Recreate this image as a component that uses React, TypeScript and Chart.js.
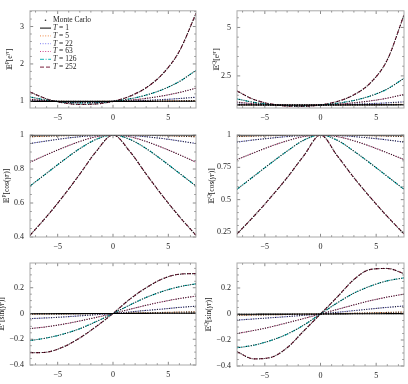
import { useEffect, useRef } from "react";
import { Chart, registerables } from "chart.js";

Chart.register(...registerables);

// Frequency grid γ shared by every panel
const gammaGrid = [-7.5, -6, -4.5, -3, -1.5, 0, 1.5, 3, 4.5, 6, 7.5];
const horizons = [1, 5, 22, 63, 126, 252];
const xTickValues = [-5, 0, 5];

// E^P[e^{γr}]
const expP_T1 = [1.001, 1.0, 1.0, 0.9997, 0.9997, 1, 1.0005, 1.001, 1.002, 1.003, 1.005];
const expP_T5 = [1.0045, 1.001, 0.999, 0.998, 0.9986, 1, 1.003, 1.006, 1.011, 1.017, 1.024];
const expP_T22 = [1.02, 1.006, 0.997, 0.993, 0.994, 1, 1.011, 1.028, 1.049, 1.077, 1.111];
const expP_T63 = [1.057, 1.016, 0.991, 0.98, 0.983, 1, 1.032, 1.081, 1.148, 1.238, 1.353];
const expP_T126 = [1.118, 1.033, 0.981, 0.96, 0.966, 1, 1.066, 1.169, 1.319, 1.531, 1.83];
const expP_T252 = [1.25, 1.066, 0.963, 0.921, 0.932, 1, 1.136, 1.366, 1.74, 2.344, 3.35];

// E^Q[e^{γr}]
const expQ_T1 = [1.002, 1.001, 1.0, 0.9998, 0.9997, 1, 1.0007, 1.002, 1.003, 1.005, 1.007];
const expQ_T5 = [1.011, 1.005, 1.001, 0.999, 0.9985, 1, 1.003, 1.008, 1.015, 1.024, 1.035];
const expQ_T22 = [1.048, 1.022, 1.005, 0.995, 0.994, 1, 1.014, 1.037, 1.069, 1.111, 1.163];
const expQ_T63 = [1.145, 1.065, 1.013, 0.986, 0.982, 1, 1.042, 1.111, 1.211, 1.351, 1.542];
const expQ_T126 = [1.311, 1.134, 1.026, 0.972, 0.964, 1, 1.086, 1.234, 1.467, 1.825, 2.376];
const expQ_T252 = [1.719, 1.286, 1.054, 0.945, 0.929, 1, 1.179, 1.522, 2.151, 3.33, 5.647];

// E^P[cos(γr)]
const cosP_T1 = [0.998, 0.999, 0.999, 1.0, 1.0, 1, 1.0, 1.0, 0.999, 0.999, 0.998];
const cosP_T5 = [0.99, 0.993, 0.996, 0.998, 0.9995, 1, 0.9995, 0.998, 0.996, 0.993, 0.99];
const cosP_T22 = [0.95, 0.965, 0.979, 0.99, 0.997, 1, 0.997, 0.99, 0.979, 0.965, 0.95];
const cosP_T63 = [0.84, 0.884, 0.925, 0.962, 0.99, 1, 0.99, 0.962, 0.925, 0.884, 0.84];
const cosP_T126 = [0.7, 0.775, 0.85, 0.92, 0.975, 1, 0.975, 0.92, 0.85, 0.775, 0.7];
const cosP_T252 = [0.41, 0.52, 0.64, 0.77, 0.905, 1, 0.905, 0.77, 0.64, 0.52, 0.41];

// E^Q[cos(γr)]
const cosQ_T1 = [0.9975, 0.998, 0.999, 0.9995, 1.0, 1, 1.0, 0.9995, 0.999, 0.998, 0.9975];
const cosQ_T5 = [0.988, 0.9917, 0.995, 0.9975, 0.9993, 1, 0.9993, 0.9975, 0.995, 0.9917, 0.988];
const cosQ_T22 = [0.945, 0.962, 0.976, 0.988, 0.997, 1, 0.997, 0.988, 0.976, 0.962, 0.945];
const cosQ_T63 = [0.81, 0.862, 0.912, 0.955, 0.988, 1, 0.988, 0.955, 0.912, 0.862, 0.81];
const cosQ_T126 = [0.58, 0.68, 0.78, 0.875, 0.96, 1, 0.96, 0.875, 0.78, 0.68, 0.58];
const cosQ_T252 = [0.235, 0.37, 0.515, 0.67, 0.84, 1, 0.84, 0.67, 0.515, 0.37, 0.235];

// E^P[sin(γr)]
const sinP_T1 = [-0.002, -0.0016, -0.0012, -0.0008, -0.0004, 0, 0.0005, 0.001, 0.0015, 0.002, 0.0025];
const sinP_T5 = [-0.005, -0.004, -0.003, -0.002, -0.001, 0, 0.003, 0.005, 0.008, 0.011, 0.013];
const sinP_T22 = [-0.04, -0.034, -0.027, -0.018, -0.009, 0, 0.012, 0.024, 0.035, 0.047, 0.057];
const sinP_T63 = [-0.117, -0.103, -0.083, -0.058, -0.03, 0, 0.032, 0.064, 0.092, 0.116, 0.135];
const sinP_T126 = [-0.21, -0.19, -0.16, -0.118, -0.062, 0, 0.065, 0.125, 0.172, 0.208, 0.23];
const sinP_T252 = [-0.305, -0.3, -0.26, -0.19, -0.1, 0, 0.11, 0.2, 0.27, 0.305, 0.31];

// E^Q[sin(γr)]
const sinQ_T1 = [-0.002, -0.0016, -0.0012, -0.0008, -0.0004, 0, 0.0006, 0.0012, 0.0018, 0.0024, 0.003];
const sinQ_T5 = [-0.01, -0.008, -0.006, -0.004, -0.002, 0, 0.003, 0.006, 0.009, 0.012, 0.015];
const sinQ_T22 = [-0.047, -0.038, -0.029, -0.02, -0.01, 0, 0.013, 0.026, 0.039, 0.051, 0.062];
const sinQ_T63 = [-0.15, -0.127, -0.1, -0.068, -0.035, 0, 0.035, 0.07, 0.103, 0.13, 0.153];
const sinQ_T126 = [-0.26, -0.24, -0.205, -0.155, -0.085, 0, 0.085, 0.16, 0.215, 0.255, 0.278];
const sinQ_T252 = [-0.29, -0.345, -0.335, -0.26, -0.13, 0, 0.13, 0.265, 0.343, 0.35, 0.31];

// y-axis major ticks per panel
const yTicksExpP = [1, 2, 3];
const yTicksExpQ = [2.5, 5];
const yTicksCosP = [0.4, 0.6, 0.8, 1];
const yTicksCosQ = [0.25, 0.5, 0.75, 1];
const yTicksSin = [-0.4, -0.2, 0, 0.2];

const seriesColors = ["#000000", "#ee8844", "#7a7af0", "#cc4488", "#10b4b4", "#7a1f3c"];
const seriesDashes: number[][] = [[], [1, 1.6], [1, 1.6], [1, 1.6], [4, 1.6, 1, 1.6], [4, 2]];

const SERIF = "'Liberation Serif', 'DejaVu Serif', serif";
const W = 408;
const H = 384;

type PanelSpec = {
  area: [number, number, number, number]; // left, top, right, bottom of the plot box
  yMin: number;
  yMax: number;
  yTicks: number[];
  yMinor: number;
  series: number[][];
  measure: string;
  body: "exp" | "cos" | "sin";
  titleX: number;
  legend?: boolean;
};

const panels: PanelSpec[] = [
  {
    area: [30, 5, 196, 108], yMin: 0.823, yMax: 3.42, yTicks: yTicksExpP, yMinor: 0.2,
    series: [expP_T1, expP_T5, expP_T22, expP_T63, expP_T126, expP_T252],
    measure: "P", body: "exp", titleX: 10, legend: true,
  },
  {
    area: [237, 5, 404, 108], yMin: 0.843, yMax: 5.86, yTicks: yTicksExpQ, yMinor: 0.5,
    series: [expQ_T1, expQ_T5, expQ_T22, expQ_T63, expQ_T126, expQ_T252],
    measure: "Q", body: "exp", titleX: 217,
  },
  {
    area: [30, 135, 196, 237], yMin: 0.4, yMax: 1.0, yTicks: yTicksCosP, yMinor: 0.05,
    series: [cosP_T1, cosP_T5, cosP_T22, cosP_T63, cosP_T126, cosP_T252],
    measure: "P", body: "cos", titleX: 7,
  },
  {
    area: [237, 135, 404, 237], yMin: 0.211, yMax: 1.0, yTicks: yTicksCosQ, yMinor: 0.05,
    series: [cosQ_T1, cosQ_T5, cosQ_T22, cosQ_T63, cosQ_T126, cosQ_T252],
    measure: "Q", body: "cos", titleX: 212,
  },
  {
    area: [30, 263, 196, 365], yMin: -0.4, yMax: 0.392, yTicks: yTicksSin, yMinor: 0.05,
    series: [sinP_T1, sinP_T5, sinP_T22, sinP_T63, sinP_T126, sinP_T252],
    measure: "P", body: "sin", titleX: 2.5,
  },
  {
    area: [237, 263, 404, 366], yMin: -0.4, yMax: 0.392, yTicks: yTicksSin, yMinor: 0.05,
    series: [sinQ_T1, sinQ_T5, sinQ_T22, sinQ_T63, sinQ_T126, sinQ_T252],
    measure: "Q", body: "sin", titleX: 209,
  },
];

const fmtTick = (v: number) => {
  const s = String(Math.round(v * 1000) / 1000);
  return v < 0 ? "\u2212" + s.slice(1) : s;
};

type Part = { t: string; sup?: boolean; it?: boolean };

function drawParts(ctx: CanvasRenderingContext2D, parts: Part[], x: number, y: number, size: number) {
  const supSize = size * 0.72;
  const fontFor = (p: Part) => `${p.it ? "italic " : ""}${p.sup ? supSize : size}px ${SERIF}`;
  let total = 0;
  for (const p of parts) {
    ctx.font = fontFor(p);
    total += ctx.measureText(p.t).width;
  }
  let cx = x - total / 2;
  for (const p of parts) {
    ctx.font = fontFor(p);
    ctx.fillText(p.t, cx, p.sup ? y - size * 0.38 : y);
    cx += ctx.measureText(p.t).width;
  }
}

function titleParts(measure: string, body: string): Part[] {
  const head: Part[] = [{ t: "\u{1D53C}" }, { t: measure, sup: true }];
  if (body === "exp") return [...head, { t: "[" }, { t: "e" }, { t: "\u03B3r", sup: true, it: true }, { t: "]" }];
  return [...head, { t: `[${body}(` }, { t: "\u03B3r", it: true }, { t: ")]" }];
}

function drawDecor(chart: Chart, panel: PanelSpec) {
  const ctx = chart.ctx;
  const { left, top, right, bottom } = chart.chartArea;
  const xs = chart.scales.x;
  const ys = chart.scales.y;
  ctx.save();
  ctx.strokeStyle = "#3a3a3a";
  ctx.lineWidth = 0.6;
  ctx.beginPath();
  // inward tick marks on all four sides
  for (let v = -7; v <= 7.001; v += 1) {
    const px = xs.getPixelForValue(v);
    const len = xTickValues.some((t) => Math.abs(t - v) < 1e-6) ? 3.2 : 1.7;
    ctx.moveTo(px, bottom);
    ctx.lineTo(px, bottom - len);
    ctx.moveTo(px, top);
    ctx.lineTo(px, top + len);
  }
  const start = Math.ceil(panel.yMin / panel.yMinor - 1e-6) * panel.yMinor;
  for (let v = start; v <= panel.yMax + 1e-9; v += panel.yMinor) {
    const py = ys.getPixelForValue(v);
    const len = panel.yTicks.some((t) => Math.abs(t - v) < 1e-6) ? 3.2 : 1.7;
    ctx.moveTo(left, py);
    ctx.lineTo(left + len, py);
    ctx.moveTo(right, py);
    ctx.lineTo(right - len, py);
  }
  ctx.stroke();
  ctx.strokeStyle = "#a9a9a9";
  ctx.lineWidth = 1;
  ctx.strokeRect(left, top, right - left, bottom - top);

  // y-axis title
  ctx.fillStyle = "#222";
  ctx.textBaseline = "middle";
  ctx.textAlign = "left";
  ctx.translate(panel.titleX, (top + bottom) / 2);
  ctx.rotate(-Math.PI / 2);
  drawParts(ctx, titleParts(panel.measure, panel.body), 0, 0, 7.5);
  ctx.restore();

  if (panel.legend) {
    ctx.save();
    ctx.textBaseline = "middle";
    ctx.textAlign = "left";
    ctx.fillStyle = "#222";
    const x0 = left + 10;
    const x1 = left + 21;
    const tx = left + 23;
    let y = top + 9.5;
    ctx.beginPath();
    ctx.arc((x0 + x1) / 2, y, 0.8, 0, Math.PI * 2);
    ctx.fill();
    ctx.font = `7.5px ${SERIF}`;
    ctx.fillText("Monte Carlo", tx, y);
    horizons.forEach((T, i) => {
      y += 7.8;
      ctx.strokeStyle = seriesColors[i];
      ctx.lineWidth = 1;
      ctx.setLineDash(seriesDashes[i]);
      ctx.beginPath();
      ctx.moveTo(x0, y);
      ctx.lineTo(x1, y);
      ctx.stroke();
      ctx.setLineDash([]);
      ctx.font = `italic 7.5px ${SERIF}`;
      ctx.fillText("T", tx, y);
      const w = ctx.measureText("T").width;
      ctx.font = `7.5px ${SERIF}`;
      ctx.fillText(` = ${T}`, tx + w, y);
    });
    ctx.restore();
  }
}

function Panel({ panel }: { panel: PanelSpec }) {
  const ref = useRef<HTMLCanvasElement>(null);
  useEffect(() => {
    const [l, t, r, b] = panel.area;
    const yAxisW = 30;
    const xAxisH = 16;
    const lines = panel.series.map((vals, i) => ({
      label: `T = ${horizons[i]}`,
      data: gammaGrid.map((g, k) => ({ x: g, y: vals[k] })),
      borderColor: seriesColors[i],
      borderWidth: 1.1,
      borderDash: seriesDashes[i],
      pointRadius: 0,
      cubicInterpolationMode: "monotone" as const,
      fill: false,
      order: 2,
    }));
    const monteCarlo = panel.series.map((vals, i) => ({
      label: `Monte Carlo ${horizons[i]}`,
      data: gammaGrid.map((g, k) => ({ x: g, y: vals[k] })),
      borderColor: "rgba(0,0,0,0.85)",
      borderWidth: 1.2,
      borderDash: [0.01, 2.4],
      borderCapStyle: "round" as const,
      pointRadius: 0,
      cubicInterpolationMode: "monotone" as const,
      fill: false,
      order: 1,
    }));
    const tickFont = { family: SERIF, size: 8 };
    const chart = new Chart(ref.current!, {
      type: "line",
      data: { datasets: [...lines, ...monteCarlo] as any },
      options: {
        responsive: false,
        animation: false,
        events: [],
        layout: { padding: { left: l - yAxisW, top: t, right: W - r, bottom: H - b - xAxisH } },
        plugins: { legend: { display: false }, tooltip: { enabled: false } },
        scales: {
          x: {
            type: "linear",
            min: -7.5,
            max: 7.5,
            grid: { display: false, drawTicks: false },
            border: { display: false },
            ticks: { padding: 5, font: tickFont, color: "#222", callback: (v: any) => fmtTick(Number(v)) },
            afterBuildTicks: (s: any) => { s.ticks = xTickValues.map((v) => ({ value: v })); },
            afterFit: (s: any) => { s.height = xAxisH; },
          },
          y: {
            type: "linear",
            min: panel.yMin,
            max: panel.yMax,
            grid: { display: false, drawTicks: false },
            border: { display: false },
            ticks: { padding: 6, font: tickFont, color: "#222", callback: (v: any) => fmtTick(Number(v)) },
            afterBuildTicks: (s: any) => { s.ticks = panel.yTicks.map((v) => ({ value: v })); },
            afterFit: (s: any) => { s.width = yAxisW; },
          },
        },
      },
      plugins: [{ id: "decor", afterDatasetsDraw: (c: Chart) => drawDecor(c, panel) }],
    });
    return () => chart.destroy();
  }, [panel]);
  return (
    <canvas
      ref={ref}
      width={W}
      height={H}
      style={{ position: "absolute", left: 0, top: 0, width: W, height: H }}
    />
  );
}

export default function App() {
  return (
    <div style={{ position: "absolute", left: 0, top: 0, width: W, height: H, background: "#fff", overflow: "hidden" }}>
      {panels.map((p, i) => (
        <Panel key={i} panel={p} />
      ))}
    </div>
  );
}
